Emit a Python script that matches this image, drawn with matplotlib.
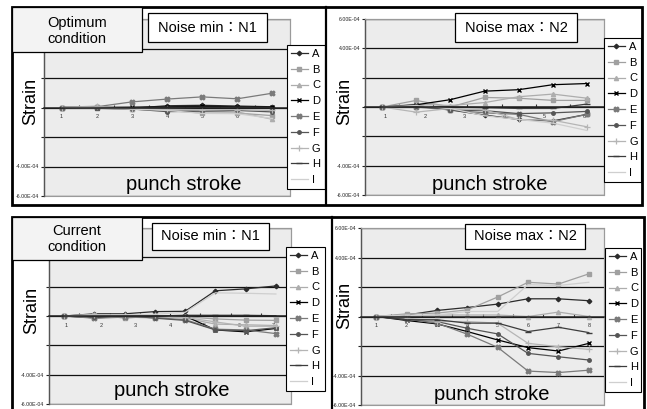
import numpy as np
import matplotlib
matplotlib.use("Agg")
import matplotlib.pyplot as plt
from matplotlib.patches import Rectangle
from matplotlib.lines import Line2D
from matplotlib.ticker import FuncFormatter

plt.rcParams['font.family'] = ['Liberation Sans', 'Noto Sans CJK JP', 'DejaVu Sans']
plt.rcParams['axes.unicode_minus'] = False

# ---------------- data (strain, in units of 1E-04) ----------------
series_names = ['A', 'B', 'C', 'D', 'E', 'F', 'G', 'H', 'I']

# Optimum condition, Noise min : N1
opt_n1 = {
    'A': [0, 0.02, -0.05, 0.12, 0.15, 0.10, 0.05],
    'B': [0, -0.05, -0.12, -0.20, -0.38, -0.38, -0.55],
    'C': [0, -0.03, -0.08, -0.15, -0.25, -0.30, -0.80],
    'D': [0, 0.00, 0.02, 0.05, 0.08, 0.05, 0.02],
    'E': [0, 0.05, 0.38, 0.57, 0.72, 0.59, 0.97],
    'F': [0, -0.05, -0.10, -0.28, -0.25, -0.20, -0.30],
    'G': [0, 0.10, -0.10, -0.10, -0.15, -0.15, -0.20],
    'H': [0, 0.00, 0.00, 0.02, 0.02, 0.02, 0.00],
    'I': [0, -0.02, -0.10, -0.20, -0.40, -0.42, -0.75],
}
opt_n1_xlabels = ['1', '2', '3', '4', '5', '6', '7']

# Optimum condition, Noise max : N2
opt_n2 = {
    'A': [0, 0.10, -0.20, -0.55, -0.85, -0.95, -0.50],
    'B': [0, 0.45, 0.00, 0.65, 0.60, 0.45, 0.45],
    'C': [0, 0.20, 0.10, 0.30, 0.70, 0.88, 0.60],
    'D': [0, 0.15, 0.50, 1.08, 1.18, 1.52, 1.60],
    'E': [0, 0.00, -0.20, -0.40, -0.50, -1.00, -0.50],
    'F': [0, 0.05, -0.20, -0.25, -0.45, -0.40, -0.30],
    'G': [0, -0.35, -0.10, -0.20, -0.85, -0.90, -1.35],
    'H': [0, 0.05, 0.00, -0.05, -0.10, -0.10, 0.20],
    'I': [0, 0.10, -0.10, -0.60, -0.85, -1.10, -1.60],
}
opt_n2_xlabels = ['1', '2', '3', '4', '5', '6']

# Current condition, Noise min : N1
cur_n1 = {
    'A': [0, 0.15, 0.15, 0.30, 0.32, 1.72, 1.85, 2.05],
    'B': [0, 0.10, -0.15, 0.00, -0.05, -0.20, -0.28, -0.30],
    'C': [0, -0.10, 0.05, 0.00, -0.15, -0.55, -0.60, -0.65],
    'D': [0, -0.12, -0.05, -0.05, 0.00, -0.95, -1.08, -0.85],
    'E': [0, -0.15, -0.08, -0.12, -0.25, -0.90, -0.95, -1.20],
    'F': [0, -0.05, 0.05, -0.15, -0.30, -0.95, -1.00, -0.80],
    'G': [0, 0.10, 0.05, 0.05, -0.10, -0.40, -0.70, -0.70],
    'H': [0, 0.00, 0.00, 0.00, 0.05, 0.05, 0.05, 0.02],
    'I': [0, 0.05, 0.08, 0.12, 0.25, 1.58, 1.55, 1.50],
}
cur_n1_xlabels = ['1', '2', '3', '4', '5', '6', '7']

# Current condition, Noise max : N2
cur_n2 = {
    'A': [0, 0.10, 0.41, 0.61, 0.84, 1.20, 1.20, 1.07],
    'B': [0, 0.18, 0.23, 0.45, 1.32, 2.32, 2.20, 2.89],
    'C': [0, 0.00, 0.10, 0.10, 0.10, 0.00, 0.30, 0.00],
    'D': [0, -0.27, -0.50, -1.02, -1.59, -2.11, -2.34, -1.82],
    'E': [0, -0.18, -0.45, -1.20, -2.09, -3.70, -3.80, -3.64],
    'F': [0, -0.18, -0.34, -0.80, -1.18, -2.50, -2.73, -2.95],
    'G': [0, -0.10, -0.34, -0.34, -0.45, -1.82, -2.05, -2.23],
    'H': [0, -0.22, -0.22, -0.45, -0.45, -1.02, -0.73, -1.09],
    'I': [0, 0.10, 0.10, 0.34, 0.34, 2.16, 2.10, 2.32],
}
cur_n2_xlabels = ['1', '2', '3', '4', '5', '6', '7', '8']

SCALE = 1e-4
y_ticks = [-6, -4, -2, 0, 2, 4, 6]
# tick labels left visible in each panel (others are covered in the original)
opt_n1_ylab = [-6, -4]
opt_n2_ylab = [-6, -4, 4, 6]
cur_n1_ylab = [-6, -4]
cur_n2_ylab = [-6, -4, 4, 6]

# ---------------- styles ----------------
styles = {
    'A': dict(color='#2b2b2b', marker='D', ms=2.3),
    'B': dict(color='#a0a0a0', marker='s', ms=2.5),
    'C': dict(color='#adadad', marker='^', ms=3.0),
    'D': dict(color='#000000', marker='x', ms=3.5, mew=1.0),
    'E': dict(color='#7a7a7a', marker='X', ms=3.5),
    'F': dict(color='#555555', marker='o', ms=2.5),
    'G': dict(color='#b5b5b5', marker='+', ms=4.0, mew=0.9),
    'H': dict(color='#3c3c3c', marker='_', ms=4.0),
    'I': dict(color='#cfcfcf', marker='None'),
}

W, H = 647, 409
fig = plt.figure(figsize=(W / 100, H / 100), dpi=100)
fig.patch.set_facecolor('white')


def fbox(x0, y0, x1, y1):
    return [x0 / W, 1 - y1 / H, (x1 - x0) / W, (y1 - y0) / H]


def frect(x0, y0, x1, y1, fc='white', ec='black', lw=0.8, z=5):
    b = fbox(x0, y0, x1, y1)
    r = Rectangle((b[0], b[1]), b[2], b[3], transform=fig.transFigure,
                  facecolor=fc, edgecolor=ec, linewidth=lw, zorder=z)
    fig.add_artist(r)


def ftext(x, y, s, size, z=6, **kw):
    fig.text(x / W, 1 - y / H, s, fontsize=size, ha='center', va='center',
             zorder=z, **kw)


def draw_panel(data, xlabels, ylabs, ax_px, leg_px, noise_px, noise_txt,
               strain_xy, punch_xy):
    ax = fig.add_axes(fbox(*ax_px))
    ax.set_facecolor('#ececec')
    ax.patch.set_edgecolor('#9a9a9a')
    ax.patch.set_linewidth(0.8)
    n = len(data['A'])
    x = np.arange(1, n + 1)
    for name in series_names:
        st = dict(styles[name])
        col = st.pop('color')
        ax.plot(x, np.array(data[name]) * SCALE, color=col, lw=0.9,
                mec=col, mfc=col, label=name, **st)
    ax.set_xlim(0.5, n + 0.5)
    ax.set_ylim(-6 * SCALE, 6 * SCALE)
    ax.set_yticks(np.array(y_ticks) * SCALE)
    vis = set(ylabs)
    ax.yaxis.set_major_formatter(FuncFormatter(
        lambda v, p: f"{v:.2E}" if round(v / SCALE) in vis else ""))
    ax.tick_params(axis='y', labelsize=3.8, length=2.5, width=0.8,
                   pad=1, colors='#222222')
    ax.grid(axis='y', color='#111111', lw=0.9)
    ax.set_axisbelow(True)
    # category axis crossing at zero
    ax.spines['bottom'].set_position(('data', 0))
    ax.spines['bottom'].set_color('#222222')
    ax.spines['bottom'].set_linewidth(1.1)
    ax.spines['left'].set_color('#555555')
    ax.spines['left'].set_linewidth(1.0)
    for s in ('top', 'right'):
        ax.spines[s].set_color('#9a9a9a')
        ax.spines[s].set_linewidth(0.8)
    ax.set_xticks(np.arange(1.5, n, 1.0))
    ax.tick_params(axis='x', direction='in', length=2, width=0.8,
                   colors='#333333', labelbottom=False)
    m = len(xlabels)
    sec = ax.secondary_xaxis(
        0.5, functions=(lambda v: 0.5 + (v - 0.5) * m / n,
                        lambda v: 0.5 + (v - 0.5) * n / m))
    sec.set_alignment('bottom')
    sec.set_xticks(np.arange(1, m + 1))
    sec.set_xticklabels(xlabels)
    sec.tick_params(length=0, labelsize=4, pad=5, colors='#333333')
    for s in sec.spines.values():
        s.set_visible(False)

    lb = fbox(*leg_px)
    leg = ax.legend(loc='upper left', bbox_to_anchor=(lb[0], lb[1], lb[2], lb[3]),
                    bbox_transform=fig.transFigure, mode='expand',
                    frameon=True, fancybox=False, framealpha=1,
                    edgecolor='black', fontsize=8, handlelength=1.5,
                    handletextpad=0.4, borderpad=0.35, labelspacing=0.52,
                    borderaxespad=0, numpoints=1)
    leg.get_frame().set_linewidth(0.8)

    ftext(strain_xy[0], strain_xy[1], 'Strain', 13, z=4, rotation=90)
    ftext(punch_xy[0], punch_xy[1], 'punch stroke', 14.5, z=4)
    frect(*noise_px, fc='white', ec='black', lw=0.9, z=5)
    ftext((noise_px[0] + noise_px[2]) / 2, (noise_px[1] + noise_px[3]) / 2,
          noise_txt, 10.5, z=6)
    return ax


# outer blocks
frect(12, 7, 642, 205, fc='none', ec='black', lw=2.0, z=4)
fig.add_artist(Line2D([326 / W, 326 / W], [1 - 7 / H, 1 - 205 / H],
                      transform=fig.transFigure, color='black', lw=1.6, zorder=4))
frect(12, 217, 644, 430, fc='none', ec='black', lw=2.0, z=4)
fig.add_artist(Line2D([332 / W, 332 / W], [1 - 217 / H, 0],
                      transform=fig.transFigure, color='black', lw=1.6, zorder=4))

draw_panel(opt_n1, opt_n1_xlabels, opt_n1_ylab, (44, 19, 290, 196),
           (287, 45, 325, 187), (148, 13, 267, 42), 'Noise min：N1',
           (31, 101), (184, 185))
draw_panel(opt_n2, opt_n2_xlabels, opt_n2_ylab, (365, 19, 604, 195),
           (604, 38, 641, 182), (455, 13, 577, 42), 'Noise max：N2',
           (345, 101), (490, 185))
draw_panel(cur_n1, cur_n1_xlabels, cur_n1_ylab, (49, 228, 291, 404),
           (286, 247, 325, 388), (152, 223, 269, 250), 'Noise min：N1',
           (32, 310), (172, 390))
draw_panel(cur_n2, cur_n2_xlabels, cur_n2_ylab, (361, 228, 604, 405),
           (605, 248, 641, 389), (465, 224, 585, 249), 'Noise max：N2',
           (345, 305), (492, 395))

# condition boxes
frect(12, 7, 142, 52, fc='#f3f3f3', ec='black', lw=0.9, z=5)
ftext(77, 31, 'Optimum\ncondition', 10.5, linespacing=1.2)
frect(12, 217, 142, 260, fc='#f3f3f3', ec='black', lw=0.9, z=5)
ftext(77, 239, 'Current\ncondition', 10.5, linespacing=1.2)

fig.savefig('out.png', dpi=100, facecolor='white')
